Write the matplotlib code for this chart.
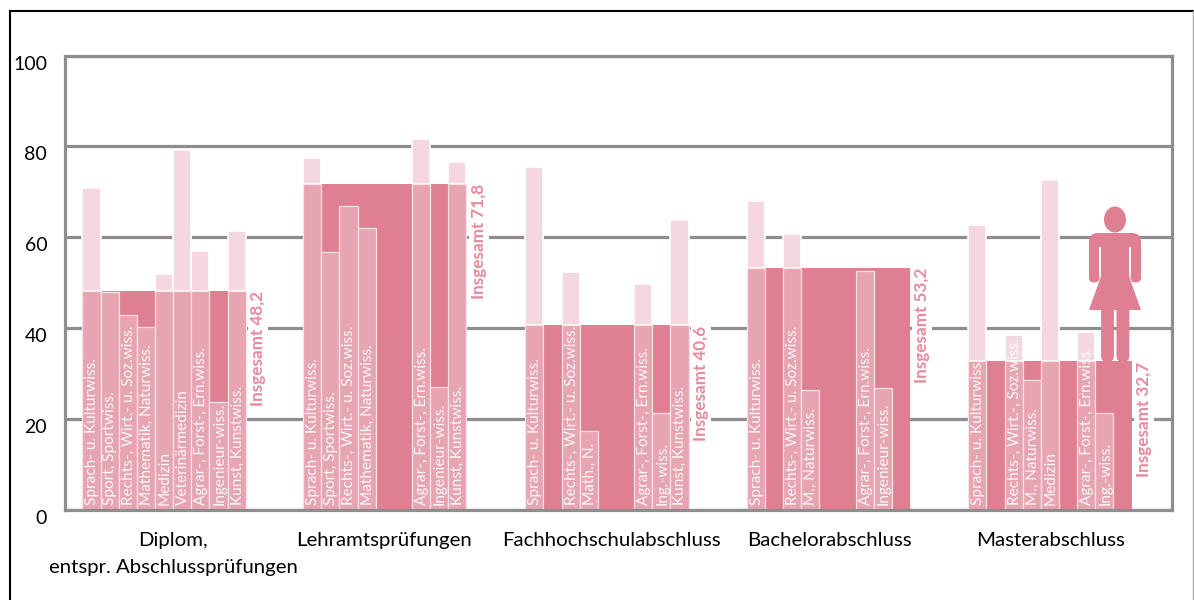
import matplotlib
matplotlib.use('Agg')
import matplotlib.pyplot as plt
from matplotlib.patches import Ellipse, FancyBboxPatch, Polygon, Rectangle

plt.rcParams['font.family'] = ['Lato', 'DejaVu Sans']

# overall share of women per degree
groups = ['Diplom,\nentspr. Abschlussprüfungen', 'Lehramtsprüfungen', 'Fachhochschulabschluss',
          'Bachelorabschluss', 'Masterabschluss']
totals = [48.2, 71.8, 40.6, 53.2, 32.7]
total_labels = ['Insgesamt 48,2', 'Insgesamt 71,8', 'Insgesamt 40,6', 'Insgesamt 53,2', 'Insgesamt 32,7']

# subject values, None where the subject has no bar
diplom = [70.8, 47.9, 42.9, 40.3, 51.9, 79.1, 57.0, 23.8, 61.3]
lehramt = [77.5, 56.7, 66.9, 62.1, None, None, 81.7, 27.1, 76.5]
fachhochschule = [75.5, None, 52.3, 17.3, None, None, 49.7, 21.3, 63.7]
bachelor = [67.9, None, 60.8, 26.3, None, None, 52.6, 26.8, None]
master = [62.8, None, 38.4, 28.5, 72.5, None, 39.1, 21.3, None]
values = [diplom, lehramt, fachhochschule, bachelor, master]

diplom_labels = ['Sprach- u. Kulturwiss.', 'Sport, Sportwiss.', 'Rechts-, Wirt.- u. Soz.wiss.',
                 'Mathematik, Naturwiss.', 'Medizin', 'Veterinärmedizin', 'Agrar-, Forst-, Ern.wiss.',
                 'Ingenieur-wiss.', 'Kunst, Kunstwiss.']
lehramt_labels = ['Sprach- u. Kulturwiss.', 'Sport, Sportwiss.', 'Rechts-, Wirt.- u. Soz.wiss.',
                  'Mathematik, Naturwiss.', '', '', 'Agrar-, Forst-, Ern.wiss.', 'Ingenieur-wiss.',
                  'Kunst, Kunstwiss.']
fachhochschule_labels = ['Sprach- u. Kulturwiss.', '', 'Rechts-, Wirt.- u. Soz.wiss.', 'Math., N.', '', '',
                         'Agrar-, Forst-, Ern.wiss.', 'Ing.-wiss.', 'Kunst, Kunstwiss.']
bachelor_labels = ['Sprach- u. Kulturwiss.', '', 'Rechts-, Wirt.- u. Soz.wiss.', 'M., Naturwiss.', '', '',
                   'Agrar-, Forst-, Ern.wiss.', 'Ingenieur-wiss.', '']
master_labels = ['Sprach- u. Kulturwiss.', '', 'Rechts-, Wirt.-, Soz.wiss.', 'M., Naturwiss.', 'Medizin', '',
                 'Agrar-, Forst-, Ern.wiss.', 'Ing.-wiss.', '']
labels = [diplom_labels, lehramt_labels, fachhochschule_labels, bachelor_labels, master_labels]

# left edge of each group, in bar widths from the axis
starts = [0.94, 13.10, 25.34, 37.54, 49.75]
group_label_x = [173, 384, 611, 829, 1051]

dark = '#DE7F92'
medium = '#E7A5B2'
light = '#F5D8DF'
edge = '#F8E3E7'
grey = '#8E8E8E'
text_pink = '#E68A9C'

fig = plt.figure(figsize=(11.94, 6), dpi=100)
ax = fig.add_axes([65.3 / 1194, 90 / 600, 1106.4 / 1194, 454.5 / 600])
ax.set_xlim(0, 60.96)
ax.set_ylim(0, 100)

for s in ax.spines.values():
    s.set_color(grey)
    s.set_linewidth(2.3)
    s.set_zorder(6)
ax.set_xticks([])
ax.set_yticks([0, 20, 40, 60, 80, 100])
ax.set_yticklabels(['0', '20', '40', '60', '80', '100'], fontsize=14, va='top')
ax.tick_params(axis='y', length=0, pad=13)
ax.grid(axis='y', color=grey, linewidth=2.3, zorder=0)
ax.set_axisbelow(True)

for start, total, vals, names, tlabel in zip(starts, totals, values, labels, total_labels):
    # full group block
    ax.bar(start, total, width=9, align='edge', color=dark, linewidth=0, zorder=2)
    for i, v in enumerate(vals):
        if v is None:
            continue
        x = start + i
        ax.bar(x, min(v, total), width=1, align='edge', color=medium, edgecolor=edge, linewidth=0.9, zorder=3)
        if v > total:
            ax.bar(x, v - total, bottom=total, width=1, align='edge', color=light,
                   edgecolor='white', linewidth=1.2, zorder=1.5)
    for i, name in enumerate(names):
        if name:
            ax.text(start + i + 0.55, 1.0, name, rotation=90, ha='center', va='bottom',
                    color='white', alpha=0.92, fontsize=11.1, zorder=4)
    ax.text(start + 9.68, total, tlabel, rotation=90, ha='center', va='top', color=text_pink,
            fontsize=12.3, fontweight='bold', zorder=4,
            bbox=dict(facecolor='white', edgecolor='none', pad=1.5))

# overlay in pixels for the frame, group labels and the figure icon
over = fig.add_axes([0, 0, 1, 1])
over.set_xlim(0, 1194)
over.set_ylim(600, 0)
over.axis('off')
over.plot([9.5, 9.5], [11, 600], color='black', linewidth=1.5)
over.plot([9.5, 1194], [11, 11], color='black', linewidth=1.5)
over.plot([1193, 1193], [11, 600], color='#AAAAAA', linewidth=1)

for name, x in zip(groups, group_label_x):
    over.text(x, 532, name, ha='center', va='top', fontsize=14.7, linespacing=1.7)

over.add_patch(Ellipse((1115, 219.5), 22, 26, color=dark, linewidth=0))
over.add_patch(FancyBboxPatch((1089, 233), 52, 24, boxstyle='round,pad=0,rounding_size=9', color=dark, linewidth=0))
over.add_patch(FancyBboxPatch((1089, 240), 10.4, 42.5, boxstyle='round,pad=0,rounding_size=5', color=dark, linewidth=0))
over.add_patch(FancyBboxPatch((1130.6, 240), 10.4, 42.5, boxstyle='round,pad=0,rounding_size=5', color=dark, linewidth=0))
over.add_patch(Rectangle((1099.4, 247), 1.7, 28, color='white', linewidth=0))
over.add_patch(Rectangle((1128.9, 247), 1.7, 28, color='white', linewidth=0))
over.add_patch(Rectangle((1101.1, 245), 27.8, 32, color=dark, linewidth=0))
over.add_patch(Polygon([(1101.1, 276), (1128.9, 276), (1141, 310), (1089, 310)], color=dark, linewidth=0))
over.add_patch(FancyBboxPatch((1101.1, 305), 12.8, 57, boxstyle='round,pad=0,rounding_size=6', color=dark, linewidth=0))
over.add_patch(FancyBboxPatch((1116.5, 305), 12.8, 57, boxstyle='round,pad=0,rounding_size=6', color=dark, linewidth=0))

fig.savefig('out.png', dpi=100)
